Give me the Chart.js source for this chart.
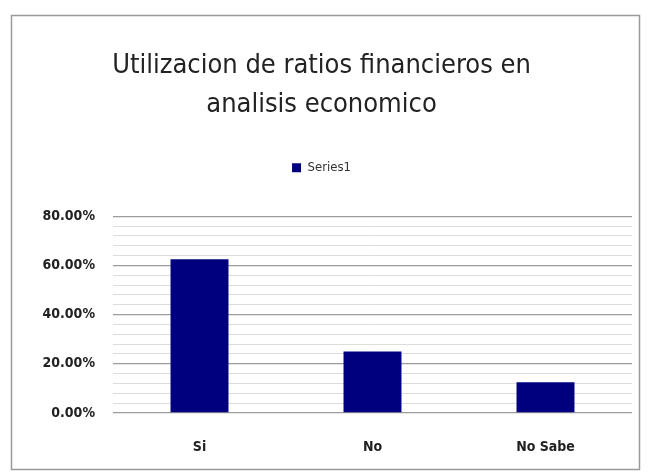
<!DOCTYPE html>
<html>
<head>
<meta charset="utf-8">
<script src="https://cdn.jsdelivr.net/npm/chart.js@4"></script>
<style>
  html, body { margin: 0; padding: 0; background: #fff; }
  #wrap { width: 650px; height: 475px; }
</style>
</head>
<body>
<div id="wrap"><canvas id="myChart" width="650" height="475"></canvas></div>
<script>
var categories = ["Si", "No", "No Sabe"];
var seriesName = "Series1";
var values = [0.625, 0.25, 0.125];
var titleLines = ["Utilizacion de ratios financieros en", "analisis economico"];
var yMax = 0.8, yStep = 0.04, yLabelStep = 0.2;

var narrow = "'Liberation Sans Narrow', 'DejaVu Sans Condensed', 'Arial Narrow', sans-serif";

// white fill plus the grey frame round the whole chart
var frame = {
  id: "frame",
  beforeDraw: function(chart) {
    var c = chart.ctx;
    c.save();
    c.fillStyle = "#fff";
    c.fillRect(0, 0, chart.width, chart.height);
    c.strokeStyle = "#9a9a9a";
    c.lineWidth = 1.5;
    c.strokeRect(11.5, 15.5, 628, 454);
    c.restore();
  }
};

// extra room under the legend before the plot starts
var legendGap = {
  id: "legendGap",
  beforeLayout: function(chart) {
    var lg = chart.legend;
    if (lg && !lg._gapped) {
      var fit = lg.fit;
      lg.fit = function() { fit.apply(this, arguments); this.height += 32; };
      lg._gapped = true;
    }
  }
};

function isMajor(v) {
  return Math.abs(v / yLabelStep - Math.round(v / yLabelStep)) < 1e-6;
}

var ctx = document.getElementById("myChart").getContext("2d");
var myChart = new Chart(ctx, {
  type: "bar",
  data: {
    labels: categories,
    datasets: [{
      label: seriesName,
      data: values,
      backgroundColor: "#00007f",
      borderWidth: 0,
      categoryPercentage: 1,
      barPercentage: 0.335
    }]
  },
  options: {
    responsive: false,
    animation: false,
    layout: { padding: { left: 11, right: 18, top: 20, bottom: 10 } },
    plugins: {
      title: {
        display: true,
        text: titleLines,
        color: "#222",
        font: { family: narrow, size: 27, weight: "normal", lineHeight: 1.45 },
        padding: { top: 26, bottom: 23 }
      },
      legend: {
        display: true,
        position: "top",
        labels: {
          color: "#333",
          font: { family: narrow, size: 13 },
          boxWidth: 9,
          boxHeight: 9,
          padding: 14
        }
      },
      tooltip: { enabled: false }
    },
    scales: {
      x: {
        grid: { display: false, drawTicks: false },
        border: { display: false },
        ticks: {
          color: "#222",
          font: { family: narrow, size: 14, weight: "bold" },
          padding: 26
        },
        afterFit: function(scale) { scale.height = 52; }
      },
      y: {
        min: 0,
        max: yMax,
        border: { display: false },
        grid: {
          drawTicks: false,
          color: function(c) { return isMajor(c.tick.value) ? "#9c9c9c" : "#dcdcdc"; },
          lineWidth: function(c) { return isMajor(c.tick.value) ? 1.3 : 1; }
        },
        ticks: {
          stepSize: yStep,
          autoSkip: false,
          padding: 18,
          color: "#222",
          font: { family: narrow, size: 14, weight: "bold" },
          callback: function(v) { return isMajor(v) ? (v * 100).toFixed(2) + "%" : ""; }
        },
        afterFit: function(scale) { scale.width = 102; }
      }
    }
  },
  plugins: [frame, legendGap]
});
</script>
</body>
</html>
